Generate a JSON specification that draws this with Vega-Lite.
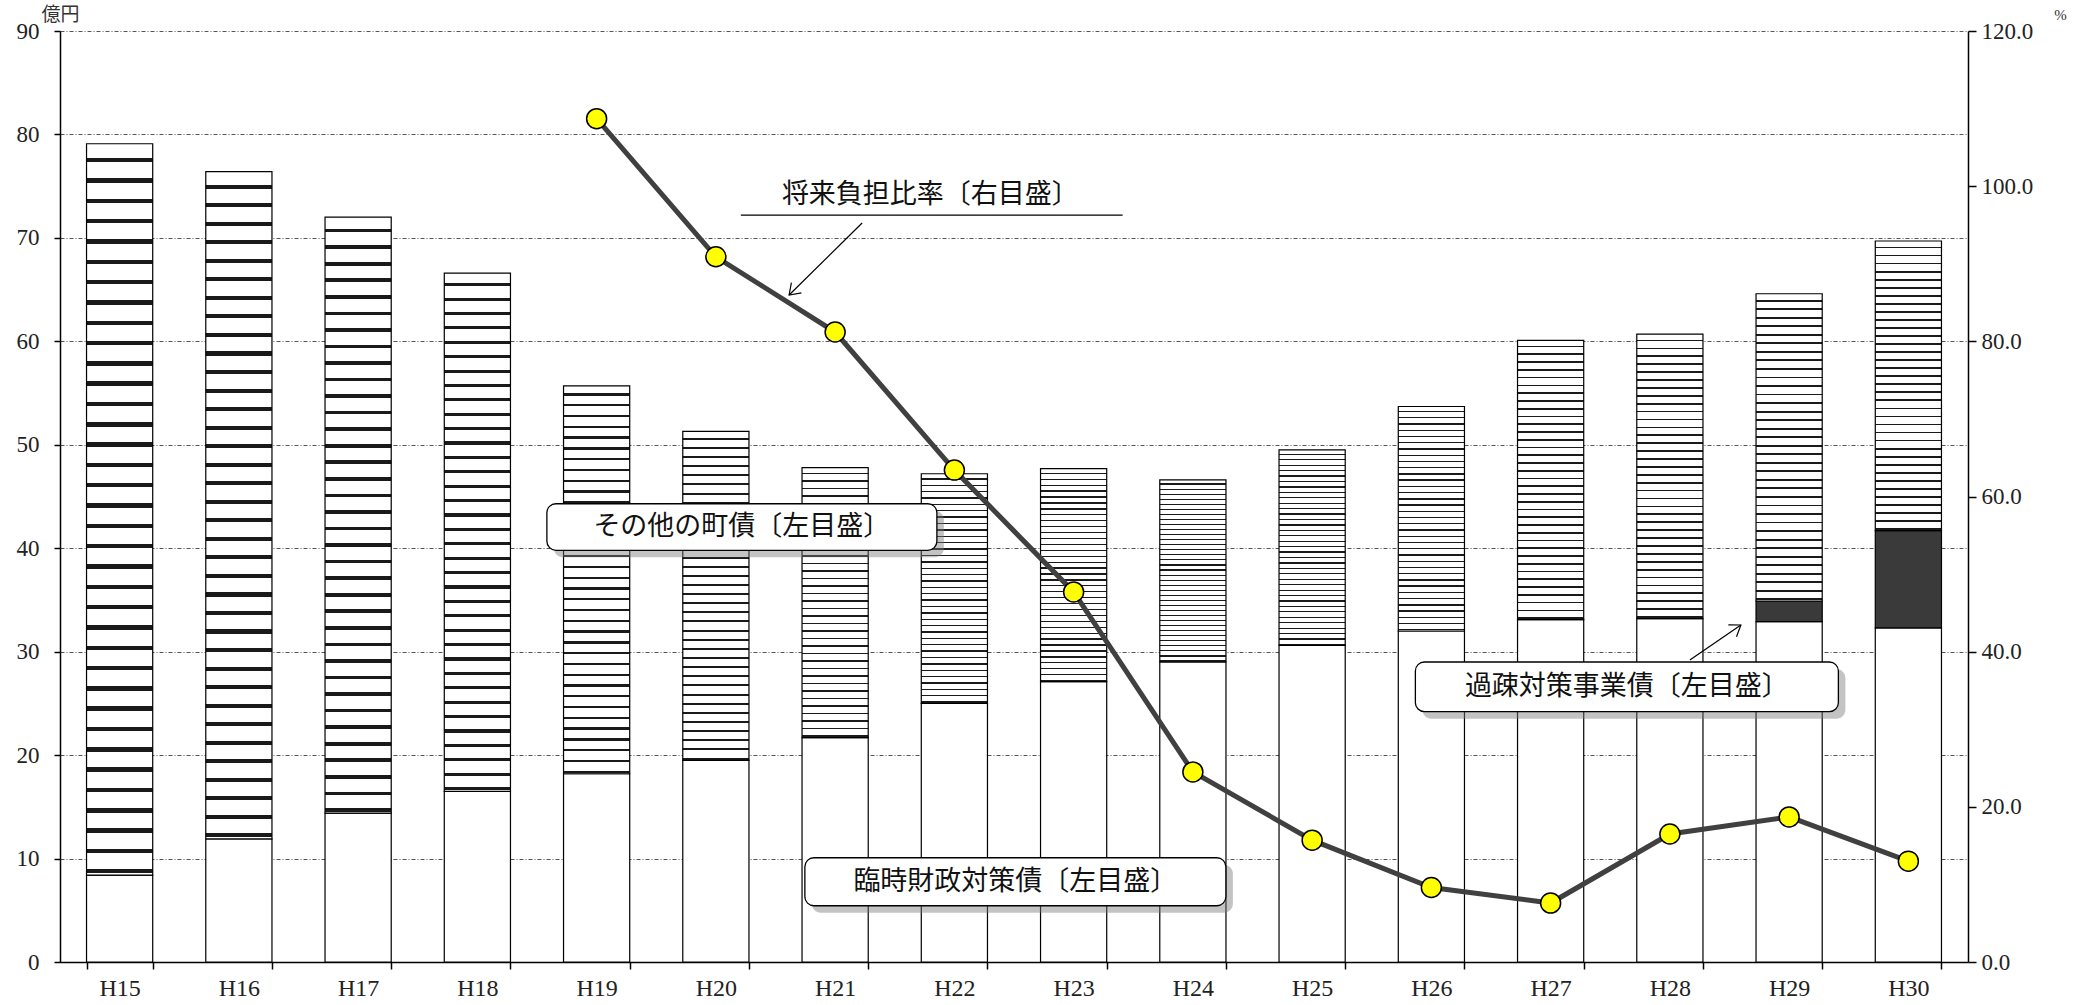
{
  "$schema": "https://vega.github.io/schema/vega-lite/v6.json",
  "width": 1908,
  "height": 931,
  "autosize": "none",
  "padding": {"left": 60, "top": 31, "right": 121, "bottom": 43},
  "background": "white",
  "config": {
    "view": {"stroke": null},
    "axis": {"domainColor": "black", "tickColor": "black", "labelColor": "#222", "labelFont": "Liberation Serif", "labelFontSize": 23}
  },
  "datasets": {
    "bonds": [
      {"year": "H15", "type": "臨時財政対策債", "rank": 1, "value": 8.4},
      {"year": "H15", "type": "その他の町債", "rank": 3, "value": 70.7},
      {"year": "H16", "type": "臨時財政対策債", "rank": 1, "value": 11.9},
      {"year": "H16", "type": "その他の町債", "rank": 3, "value": 64.5},
      {"year": "H17", "type": "臨時財政対策債", "rank": 1, "value": 14.4},
      {"year": "H17", "type": "その他の町債", "rank": 3, "value": 57.6},
      {"year": "H18", "type": "臨時財政対策債", "rank": 1, "value": 16.5},
      {"year": "H18", "type": "その他の町債", "rank": 3, "value": 50.1},
      {"year": "H19", "type": "臨時財政対策債", "rank": 1, "value": 18.2},
      {"year": "H19", "type": "その他の町債", "rank": 3, "value": 37.5},
      {"year": "H20", "type": "臨時財政対策債", "rank": 1, "value": 19.5},
      {"year": "H20", "type": "その他の町債", "rank": 3, "value": 31.8},
      {"year": "H21", "type": "臨時財政対策債", "rank": 1, "value": 21.7},
      {"year": "H21", "type": "その他の町債", "rank": 3, "value": 26.1},
      {"year": "H22", "type": "臨時財政対策債", "rank": 1, "value": 25.0},
      {"year": "H22", "type": "その他の町債", "rank": 3, "value": 22.2},
      {"year": "H23", "type": "臨時財政対策債", "rank": 1, "value": 27.1},
      {"year": "H23", "type": "その他の町債", "rank": 3, "value": 20.6},
      {"year": "H24", "type": "臨時財政対策債", "rank": 1, "value": 29.0},
      {"year": "H24", "type": "その他の町債", "rank": 3, "value": 17.6},
      {"year": "H25", "type": "臨時財政対策債", "rank": 1, "value": 30.6},
      {"year": "H25", "type": "その他の町債", "rank": 3, "value": 18.9},
      {"year": "H26", "type": "臨時財政対策債", "rank": 1, "value": 32.0},
      {"year": "H26", "type": "その他の町債", "rank": 3, "value": 21.7},
      {"year": "H27", "type": "臨時財政対策債", "rank": 1, "value": 33.1},
      {"year": "H27", "type": "その他の町債", "rank": 3, "value": 27.0},
      {"year": "H28", "type": "臨時財政対策債", "rank": 1, "value": 33.2},
      {"year": "H28", "type": "その他の町債", "rank": 3, "value": 27.5},
      {"year": "H29", "type": "臨時財政対策債", "rank": 1, "value": 32.9},
      {"year": "H29", "type": "過疎対策事業債", "rank": 2, "value": 2.0},
      {"year": "H29", "type": "その他の町債", "rank": 3, "value": 29.7},
      {"year": "H30", "type": "臨時財政対策債", "rank": 1, "value": 32.3},
      {"year": "H30", "type": "過疎対策事業債", "rank": 2, "value": 9.4},
      {"year": "H30", "type": "その他の町債", "rank": 3, "value": 28.0}
    ],
    "ratio": [
      {"year": "H19", "ratio": 108.7},
      {"year": "H20", "ratio": 90.9},
      {"year": "H21", "ratio": 81.2},
      {"year": "H22", "ratio": 63.4},
      {"year": "H23", "ratio": 47.7},
      {"year": "H24", "ratio": 24.5},
      {"year": "H25", "ratio": 15.7},
      {"year": "H26", "ratio": 9.6},
      {"year": "H27", "ratio": 7.6},
      {"year": "H28", "ratio": 16.5},
      {"year": "H29", "ratio": 18.7},
      {"year": "H30", "ratio": 13.0}
    ],
    "notes": [
      {"year": "H20", "label": "その他の町債〔左目盛〕", "y": 42.05, "top": 44.3, "bottom": 39.8},
      {"year": "H28", "label": "過疎対策事業債〔左目盛〕", "y": 26.6, "top": 29.0, "bottom": 24.2},
      {"year": "H22", "label": "臨時財政対策債〔左目盛〕", "y": 7.76, "top": 10.08, "bottom": 5.44},
      {"year": "H22", "label": "将来負担比率〔右目盛〕", "y": 74.15}
    ],
    "pointers": [
      {"year": "H20", "year2": "H23", "y": 72.2, "y2": 72.2, "part": "underline"},
      {"year": "H21", "year2": "H21", "y": 71.44, "y2": 64.48, "part": "arrow1"},
      {"year": "H28", "year2": "H28", "y": 29.2, "y2": 32.58, "part": "arrow3"}
    ]
  },
  "encoding": {
    "x": {
      "field": "year",
      "type": "nominal",
      "scale": {"domain": ["H15","H16","H17","H18","H19","H20","H21","H22","H23","H24","H25","H26","H27","H28","H29","H30"], "paddingInner": 0.445, "paddingOuter": 0.2225},
      "axis": {"title": null, "labelAngle": 0, "tickBand": "extent", "domainWidth": 1.5, "tickSize": 7, "tickWidth": 1.5, "labelPadding": 7, "labelFontSize": 24, "grid": false}
    }
  },
  "layer": [
    {
      "encoding": {
        "y": {
          "type": "quantitative",
          "scale": {"domain": [0, 90], "nice": false},
          "axis": {"values": [0,10,20,30,40,50,60,70,80,90], "grid": true, "gridDash": [4,2,1,2], "gridColor": "#555", "gridWidth": 1, "domainWidth": 1.5, "tickSize": 6, "tickWidth": 1.5, "labelPadding": 15, "title": "億円", "titleAngle": 0, "titleX": 0, "titleY": -7, "titleAlign": "center", "titleBaseline": "bottom", "titleFont": "Noto Sans CJK JP", "titleFontSize": 19, "titleFontWeight": "normal", "titleColor": "#333"}
        }
      },
      "layer": [
        {
          "data": {"name": "bonds"},
          "mark": {"type": "bar", "stroke": "black", "strokeWidth": 1.2},
          "encoding": {
            "y": {
              "field": "value", "type": "quantitative", "stack": "zero",
              "scale": {"domain": [0, 90], "nice": false},
              "axis": {"values": [0,10,20,30,40,50,60,70,80,90], "grid": true, "gridDash": [4,2,1,2], "gridColor": "#555", "gridWidth": 1, "domainWidth": 1.5, "tickSize": 6, "tickWidth": 1.5, "labelPadding": 15, "title": "億円", "titleAngle": 0, "titleX": 0, "titleY": -7, "titleAlign": "center", "titleBaseline": "bottom", "titleFont": "Noto Sans CJK JP", "titleFontSize": 19, "titleFontWeight": "normal", "titleColor": "#333"}
            },
            "detail": {"field": "type"},
            "order": {"field": "rank", "sort": "ascending"},
            "fill": {
              "condition": [
                {"test": "datum.type === 'その他の町債'", "value": {"gradient": "linear", "x1": 0, "y1": 0, "x2": 0, "y2": 1, "stops": [
                  {"offset": 0, "color": "#ffffff"},
                  {"offset": 0.0194, "color": "#ffffff"}, {"offset": 0.0194, "color": "#1a1a1a"}, {"offset": 0.0255, "color": "#1a1a1a"}, {"offset": 0.0255, "color": "#ffffff"},
                  {"offset": 0.0472, "color": "#ffffff"}, {"offset": 0.0472, "color": "#1a1a1a"}, {"offset": 0.0533, "color": "#1a1a1a"}, {"offset": 0.0533, "color": "#ffffff"},
                  {"offset": 0.0750, "color": "#ffffff"}, {"offset": 0.0750, "color": "#1a1a1a"}, {"offset": 0.0811, "color": "#1a1a1a"}, {"offset": 0.0811, "color": "#ffffff"},
                  {"offset": 0.1028, "color": "#ffffff"}, {"offset": 0.1028, "color": "#1a1a1a"}, {"offset": 0.1089, "color": "#1a1a1a"}, {"offset": 0.1089, "color": "#ffffff"},
                  {"offset": 0.1306, "color": "#ffffff"}, {"offset": 0.1306, "color": "#1a1a1a"}, {"offset": 0.1367, "color": "#1a1a1a"}, {"offset": 0.1367, "color": "#ffffff"},
                  {"offset": 0.1583, "color": "#ffffff"}, {"offset": 0.1583, "color": "#1a1a1a"}, {"offset": 0.1644, "color": "#1a1a1a"}, {"offset": 0.1644, "color": "#ffffff"},
                  {"offset": 0.1861, "color": "#ffffff"}, {"offset": 0.1861, "color": "#1a1a1a"}, {"offset": 0.1922, "color": "#1a1a1a"}, {"offset": 0.1922, "color": "#ffffff"},
                  {"offset": 0.2139, "color": "#ffffff"}, {"offset": 0.2139, "color": "#1a1a1a"}, {"offset": 0.2200, "color": "#1a1a1a"}, {"offset": 0.2200, "color": "#ffffff"},
                  {"offset": 0.2417, "color": "#ffffff"}, {"offset": 0.2417, "color": "#1a1a1a"}, {"offset": 0.2478, "color": "#1a1a1a"}, {"offset": 0.2478, "color": "#ffffff"},
                  {"offset": 0.2694, "color": "#ffffff"}, {"offset": 0.2694, "color": "#1a1a1a"}, {"offset": 0.2755, "color": "#1a1a1a"}, {"offset": 0.2755, "color": "#ffffff"},
                  {"offset": 0.2972, "color": "#ffffff"}, {"offset": 0.2972, "color": "#1a1a1a"}, {"offset": 0.3033, "color": "#1a1a1a"}, {"offset": 0.3033, "color": "#ffffff"},
                  {"offset": 0.3250, "color": "#ffffff"}, {"offset": 0.3250, "color": "#1a1a1a"}, {"offset": 0.3311, "color": "#1a1a1a"}, {"offset": 0.3311, "color": "#ffffff"},
                  {"offset": 0.3528, "color": "#ffffff"}, {"offset": 0.3528, "color": "#1a1a1a"}, {"offset": 0.3589, "color": "#1a1a1a"}, {"offset": 0.3589, "color": "#ffffff"},
                  {"offset": 0.3806, "color": "#ffffff"}, {"offset": 0.3806, "color": "#1a1a1a"}, {"offset": 0.3867, "color": "#1a1a1a"}, {"offset": 0.3867, "color": "#ffffff"},
                  {"offset": 0.4083, "color": "#ffffff"}, {"offset": 0.4083, "color": "#1a1a1a"}, {"offset": 0.4144, "color": "#1a1a1a"}, {"offset": 0.4144, "color": "#ffffff"},
                  {"offset": 0.4361, "color": "#ffffff"}, {"offset": 0.4361, "color": "#1a1a1a"}, {"offset": 0.4422, "color": "#1a1a1a"}, {"offset": 0.4422, "color": "#ffffff"},
                  {"offset": 0.4639, "color": "#ffffff"}, {"offset": 0.4639, "color": "#1a1a1a"}, {"offset": 0.4700, "color": "#1a1a1a"}, {"offset": 0.4700, "color": "#ffffff"},
                  {"offset": 0.4917, "color": "#ffffff"}, {"offset": 0.4917, "color": "#1a1a1a"}, {"offset": 0.4978, "color": "#1a1a1a"}, {"offset": 0.4978, "color": "#ffffff"},
                  {"offset": 0.5194, "color": "#ffffff"}, {"offset": 0.5194, "color": "#1a1a1a"}, {"offset": 0.5255, "color": "#1a1a1a"}, {"offset": 0.5255, "color": "#ffffff"},
                  {"offset": 0.5472, "color": "#ffffff"}, {"offset": 0.5472, "color": "#1a1a1a"}, {"offset": 0.5533, "color": "#1a1a1a"}, {"offset": 0.5533, "color": "#ffffff"},
                  {"offset": 0.5750, "color": "#ffffff"}, {"offset": 0.5750, "color": "#1a1a1a"}, {"offset": 0.5811, "color": "#1a1a1a"}, {"offset": 0.5811, "color": "#ffffff"},
                  {"offset": 0.6028, "color": "#ffffff"}, {"offset": 0.6028, "color": "#1a1a1a"}, {"offset": 0.6089, "color": "#1a1a1a"}, {"offset": 0.6089, "color": "#ffffff"},
                  {"offset": 0.6306, "color": "#ffffff"}, {"offset": 0.6306, "color": "#1a1a1a"}, {"offset": 0.6367, "color": "#1a1a1a"}, {"offset": 0.6367, "color": "#ffffff"},
                  {"offset": 0.6583, "color": "#ffffff"}, {"offset": 0.6583, "color": "#1a1a1a"}, {"offset": 0.6644, "color": "#1a1a1a"}, {"offset": 0.6644, "color": "#ffffff"},
                  {"offset": 0.6861, "color": "#ffffff"}, {"offset": 0.6861, "color": "#1a1a1a"}, {"offset": 0.6922, "color": "#1a1a1a"}, {"offset": 0.6922, "color": "#ffffff"},
                  {"offset": 0.7139, "color": "#ffffff"}, {"offset": 0.7139, "color": "#1a1a1a"}, {"offset": 0.7200, "color": "#1a1a1a"}, {"offset": 0.7200, "color": "#ffffff"},
                  {"offset": 0.7417, "color": "#ffffff"}, {"offset": 0.7417, "color": "#1a1a1a"}, {"offset": 0.7478, "color": "#1a1a1a"}, {"offset": 0.7478, "color": "#ffffff"},
                  {"offset": 0.7694, "color": "#ffffff"}, {"offset": 0.7694, "color": "#1a1a1a"}, {"offset": 0.7755, "color": "#1a1a1a"}, {"offset": 0.7755, "color": "#ffffff"},
                  {"offset": 0.7972, "color": "#ffffff"}, {"offset": 0.7972, "color": "#1a1a1a"}, {"offset": 0.8033, "color": "#1a1a1a"}, {"offset": 0.8033, "color": "#ffffff"},
                  {"offset": 0.8250, "color": "#ffffff"}, {"offset": 0.8250, "color": "#1a1a1a"}, {"offset": 0.8311, "color": "#1a1a1a"}, {"offset": 0.8311, "color": "#ffffff"},
                  {"offset": 0.8528, "color": "#ffffff"}, {"offset": 0.8528, "color": "#1a1a1a"}, {"offset": 0.8589, "color": "#1a1a1a"}, {"offset": 0.8589, "color": "#ffffff"},
                  {"offset": 0.8806, "color": "#ffffff"}, {"offset": 0.8806, "color": "#1a1a1a"}, {"offset": 0.8867, "color": "#1a1a1a"}, {"offset": 0.8867, "color": "#ffffff"},
                  {"offset": 0.9083, "color": "#ffffff"}, {"offset": 0.9083, "color": "#1a1a1a"}, {"offset": 0.9144, "color": "#1a1a1a"}, {"offset": 0.9144, "color": "#ffffff"},
                  {"offset": 0.9361, "color": "#ffffff"}, {"offset": 0.9361, "color": "#1a1a1a"}, {"offset": 0.9422, "color": "#1a1a1a"}, {"offset": 0.9422, "color": "#ffffff"},
                  {"offset": 0.9639, "color": "#ffffff"}, {"offset": 0.9639, "color": "#1a1a1a"}, {"offset": 0.9700, "color": "#1a1a1a"}, {"offset": 0.9700, "color": "#ffffff"},
                  {"offset": 0.9917, "color": "#ffffff"}, {"offset": 0.9917, "color": "#1a1a1a"}, {"offset": 0.9978, "color": "#1a1a1a"}, {"offset": 0.9978, "color": "#ffffff"},
                  {"offset": 1, "color": "#ffffff"}
                ]}},
                {"test": "datum.type === '過疎対策事業債'", "value": "#3a3a3a"}
              ],
              "value": "#ffffff"
            }
          }
        },
        {
          "data": {"name": "notes"},
          "transform": [{"filter": "datum.label === 'その他の町債〔左目盛〕'"}],
          "layer": [
            {"mark": {"type": "bar", "width": 390, "xOffset": 33, "yOffset": 7, "y2Offset": 7, "fill": "#7a7a7a", "opacity": 0.45, "cornerRadius": 9},
             "encoding": {"y": {"field": "top"}, "y2": {"field": "bottom"}}},
            {"mark": {"type": "bar", "width": 390, "xOffset": 26, "fill": "white", "stroke": "black", "strokeWidth": 1.3, "cornerRadius": 9},
             "encoding": {"y": {"field": "top"}, "y2": {"field": "bottom"}}},
            {"mark": {"type": "text", "xOffset": 26, "font": "Noto Sans CJK JP", "fontSize": 27, "fill": "#111", "align": "center", "baseline": "middle"},
             "encoding": {"y": {"field": "y"}, "text": {"field": "label"}}}
          ]
        },
        {
          "data": {"name": "notes"},
          "transform": [{"filter": "datum.label === '過疎対策事業債〔左目盛〕'"}],
          "layer": [
            {"mark": {"type": "bar", "width": 423, "xOffset": -36, "yOffset": 7, "y2Offset": 7, "fill": "#7a7a7a", "opacity": 0.45, "cornerRadius": 9},
             "encoding": {"y": {"field": "top"}, "y2": {"field": "bottom"}}},
            {"mark": {"type": "bar", "width": 423, "xOffset": -43, "fill": "white", "stroke": "black", "strokeWidth": 1.3, "cornerRadius": 9},
             "encoding": {"y": {"field": "top"}, "y2": {"field": "bottom"}}},
            {"mark": {"type": "text", "xOffset": -43, "font": "Noto Sans CJK JP", "fontSize": 27, "fill": "#111", "align": "center", "baseline": "middle"},
             "encoding": {"y": {"field": "y"}, "text": {"field": "label"}}}
          ]
        },
        {
          "data": {"name": "notes"},
          "transform": [{"filter": "datum.label === '臨時財政対策債〔左目盛〕'"}],
          "layer": [
            {"mark": {"type": "bar", "width": 421, "xOffset": 68, "yOffset": 7, "y2Offset": 7, "fill": "#7a7a7a", "opacity": 0.45, "cornerRadius": 9},
             "encoding": {"y": {"field": "top"}, "y2": {"field": "bottom"}}},
            {"mark": {"type": "bar", "width": 421, "xOffset": 61, "fill": "white", "stroke": "black", "strokeWidth": 1.3, "cornerRadius": 9},
             "encoding": {"y": {"field": "top"}, "y2": {"field": "bottom"}}},
            {"mark": {"type": "text", "xOffset": 61, "font": "Noto Sans CJK JP", "fontSize": 27, "fill": "#111", "align": "center", "baseline": "middle"},
             "encoding": {"y": {"field": "y"}, "text": {"field": "label"}}}
          ]
        },
        {
          "data": {"name": "notes"},
          "transform": [{"filter": "datum.label === '将来負担比率〔右目盛〕'"}],
          "mark": {"type": "text", "xOffset": -24, "font": "Noto Sans CJK JP", "fontSize": 27, "fill": "#111", "align": "center", "baseline": "middle"},
          "encoding": {"y": {"field": "y"}, "text": {"field": "label"}}
        },
        {
          "data": {"name": "pointers"},
          "transform": [{"filter": "datum.part === 'underline'"}],
          "mark": {"type": "rule", "xOffset": 25, "x2Offset": 49, "stroke": "black", "strokeWidth": 1.3},
          "encoding": {"x2": {"field": "year2"}, "y": {"field": "y"}}
        },
        {
          "data": {"name": "pointers"},
          "transform": [{"filter": "datum.part === 'arrow1'"}],
          "layer": [
            {"mark": {"type": "rule", "xOffset": 27, "x2Offset": -46, "stroke": "black", "strokeWidth": 1.2},
             "encoding": {"x2": {"field": "year2"}, "y": {"field": "y"}, "y2": {"field": "y2"}}},
            {"mark": {"type": "point", "shape": "M-1,-0.7L0,0L-1,0.7", "filled": false, "size": 420, "angle": 135.4, "xOffset": -46, "stroke": "black", "strokeWidth": 1.2, "opacity": 1},
             "encoding": {"y": {"field": "y2"}}}
          ]
        },
        {
          "data": {"name": "pointers"},
          "transform": [{"filter": "datum.part === 'arrow3'"}],
          "layer": [
            {"mark": {"type": "rule", "xOffset": 20, "x2Offset": 71, "stroke": "black", "strokeWidth": 1.2},
             "encoding": {"x2": {"field": "year2"}, "y": {"field": "y"}, "y2": {"field": "y2"}}},
            {"mark": {"type": "point", "shape": "M-1,-0.7L0,0L-1,0.7", "filled": false, "size": 420, "angle": 325.5, "xOffset": 71, "stroke": "black", "strokeWidth": 1.2, "opacity": 1},
             "encoding": {"y": {"field": "y2"}}}
          ]
        }
      ]
    },
    {
      "data": {"name": "ratio"},
      "encoding": {
        "y": {
          "field": "ratio", "type": "quantitative",
          "scale": {"domain": [0, 120], "nice": false},
          "axis": {"orient": "right", "values": [0,20,40,60,80,100,120], "format": ".1f", "grid": false, "domainWidth": 1.5, "tickSize": 8, "tickWidth": 1.5, "labelPadding": 5, "title": "%", "titleAngle": 0, "titleX": 92, "titleY": -9, "titleAlign": "center", "titleBaseline": "bottom", "titleFont": "Liberation Serif", "titleFontSize": 15, "titleFontWeight": "normal", "titleColor": "#333"}
        }
      },
      "layer": [
        {"mark": {"type": "line", "color": "#404040", "strokeWidth": 5}},
        {"mark": {"type": "point", "filled": true, "fill": "#ffff00", "stroke": "black", "strokeWidth": 1.5, "size": 400, "opacity": 1}}
      ]
    }
  ],
  "resolve": {"scale": {"y": "independent"}, "axis": {"y": "independent"}}
}
